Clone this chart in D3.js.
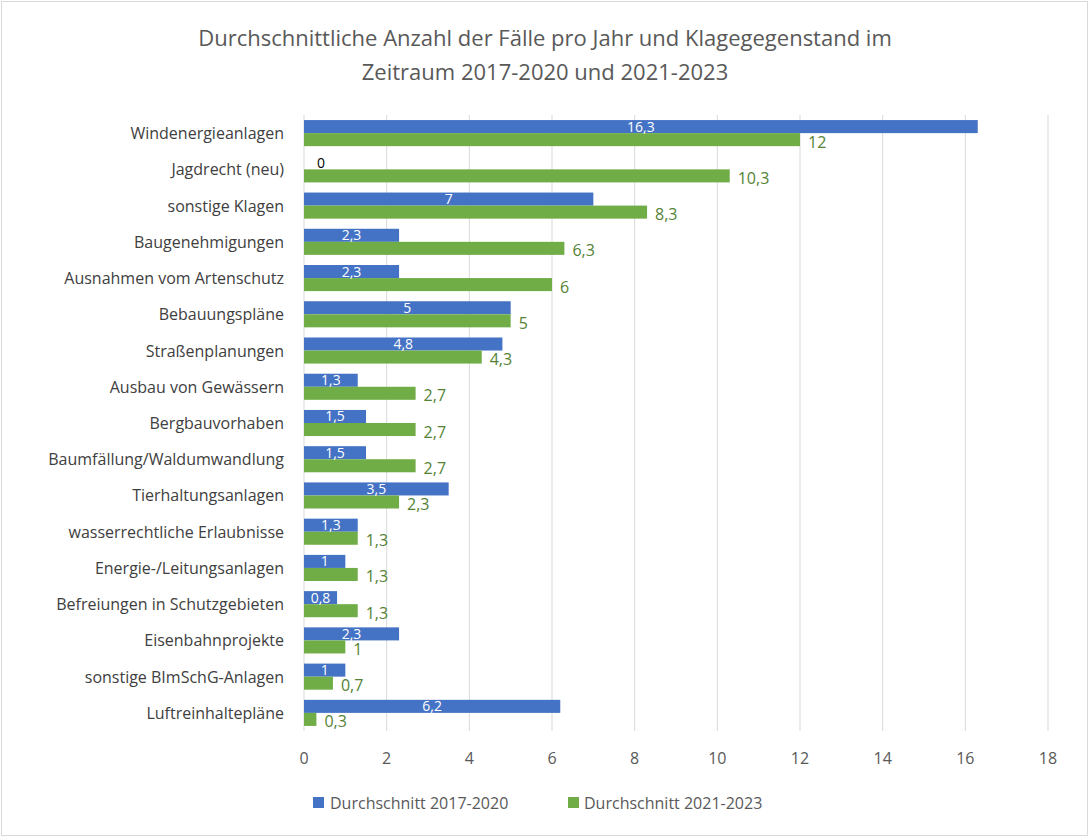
<!DOCTYPE html>
<html><head><meta charset="utf-8">
<script src="https://cdn.jsdelivr.net/npm/d3@7"></script>
<style>body{margin:0;background:#fff;font-family:"Open Sans",sans-serif}</style>
</head><body>
<svg id="c" width="1090" height="840"></svg>
<script>
const categories=["Windenergieanlagen","Jagdrecht (neu)","sonstige Klagen","Baugenehmigungen","Ausnahmen vom Artenschutz","Bebauungspläne","Straßenplanungen","Ausbau von Gewässern","Bergbauvorhaben","Baumfällung/Waldumwandlung","Tierhaltungsanlagen","wasserrechtliche Erlaubnisse","Energie-/Leitungsanlagen","Befreiungen in Schutzgebieten","Eisenbahnprojekte","sonstige BImSchG-Anlagen","Luftreinhaltepläne"];
const avg1720=[16.3,0,7,2.3,2.3,5,4.8,1.3,1.5,1.5,3.5,1.3,1,0.8,2.3,1,6.2];
const avg2123=[12,10.3,8.3,6.3,6,5,4.3,2.7,2.7,2.7,2.3,1.3,1.3,1.3,1,0.7,0.3];
const ticks=[0,2,4,6,8,10,12,14,16,18];
const seriesNames=["Durchschnitt 2017-2020","Durchschnitt 2021-2023"];
const colors=["#4472C4","#70AD47"];
const fmt=v=>String(v).replace(".",",");
const svg=d3.select("#c");
svg.append("rect").attr("x",1.5).attr("y",1.5).attr("width",1086).attr("height",834).attr("fill","#fff").attr("stroke","#d9d9d9");
const x=d3.scaleLinear().domain([0,18]).range([304,1048]);
const y=d3.scaleBand().domain(categories).range([115,731]).paddingInner(0.28).paddingOuter(0.14);
const bh=y.bandwidth()/2;
// title
const t=svg.append("text").attr("text-anchor","middle").attr("fill","#595959").attr("font-size",22);
t.append("tspan").attr("x",545).attr("y",46).text("Durchschnittliche Anzahl der Fälle pro Jahr und Klagegegenstand im");
t.append("tspan").attr("x",545).attr("y",80).text("Zeitraum 2017-2020 und 2021-2023");
// grid
svg.append("g").selectAll("line").data(ticks).join("line")
 .attr("x1",d=>x(d)).attr("x2",d=>x(d)).attr("y1",115).attr("y2",731)
 .attr("stroke","#d9d9d9");
svg.append("g").selectAll("text").data(ticks).join("text")
 .attr("x",d=>x(d)).attr("y",764).attr("text-anchor","middle").attr("font-size",16).attr("fill","#595959").text(d=>d);
// category labels
svg.append("g").selectAll("text").data(categories).join("text")
 .attr("x",284).attr("y",d=>y(d)+bh+6).attr("text-anchor","end").attr("font-size",16).attr("fill","#404040").text(d=>d);
// bars
svg.append("g").selectAll("rect").data(categories).join("rect")
 .attr("x",x(0)).attr("y",d=>y(d)).attr("height",bh).attr("width",(d,i)=>x(avg1720[i])-x(0)).attr("fill",colors[0]);
svg.append("g").selectAll("rect").data(categories).join("rect")
 .attr("x",x(0)).attr("y",d=>y(d)+bh).attr("height",bh).attr("width",(d,i)=>x(avg2123[i])-x(0)).attr("fill",colors[1]);
// labels
svg.append("g").selectAll("text").data(categories).join("text")
 .attr("x",(d,i)=>avg1720[i]===0?x(0)+17:(x(0)+x(avg1720[i]))/2)
 .attr("y",d=>y(d)+bh/2+5).attr("text-anchor","middle").attr("font-size",14)
 .attr("fill",(d,i)=>avg1720[i]===0?"#000":"#fff").text((d,i)=>fmt(avg1720[i]));
svg.append("g").selectAll("text").data(categories).join("text")
 .attr("x",(d,i)=>x(avg2123[i])+8).attr("y",d=>y(d)+bh*1.5+8).attr("font-size",16)
 .attr("fill","#548235").text((d,i)=>fmt(avg2123[i]));
// legend
const lg=svg.append("g");
[[313,330],[568,584]].forEach((p,i)=>{
 lg.append("rect").attr("x",p[0]).attr("y",797).attr("width",11).attr("height",11).attr("fill",colors[i]);
 lg.append("text").attr("x",p[1]).attr("y",809).attr("font-size",16).attr("fill","#595959").text(seriesNames[i]);
});
</script></body></html>
